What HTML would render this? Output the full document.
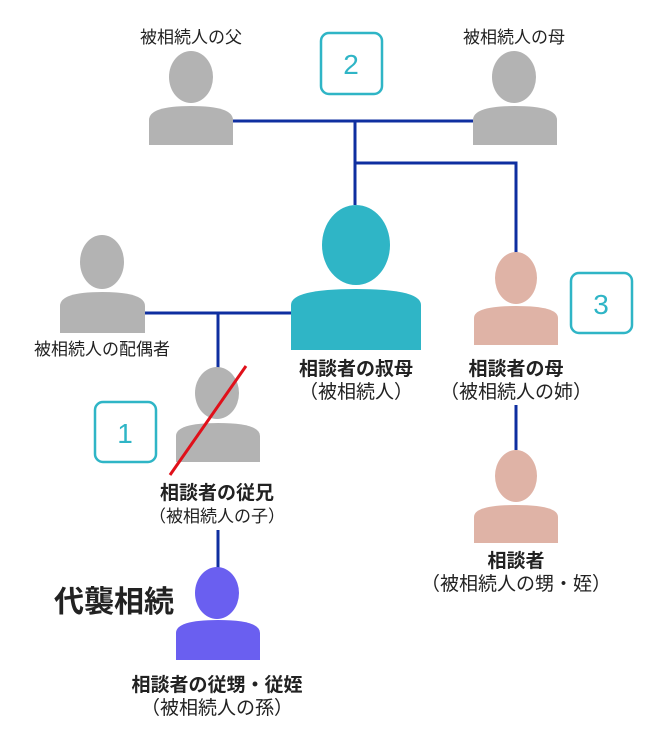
<!DOCTYPE html>
<html><head><meta charset="utf-8"><style>
html,body{margin:0;padding:0;background:#fff;width:661px;height:734px;overflow:hidden}
text{font-family:"Liberation Sans","Noto Sans CJK JP",sans-serif;fill:#222}
.b{font-weight:bold;font-size:19px}
.n{font-size:19px}
.s{font-size:17px}
</style></head><body>
<svg width="661" height="734" viewBox="0 0 661 734" xmlns="http://www.w3.org/2000/svg">
<g stroke="#0f2fa0" stroke-width="3" fill="none">
<path d="M233 121H473M355 121V205M355 163H516V253M145 313H291M218 313V370M218 530V568M516 405V450"/>
</g>
<g fill="#b3b3b3">
<ellipse cx="191" cy="77" rx="22" ry="26"/>
<path d="M149 145V120Q149 106 191 106Q233 106 233 120V145Z"/>
<ellipse cx="514" cy="77" rx="22" ry="26"/>
<path d="M473 145V120Q473 106 515 106Q557 106 557 120V145Z"/>
<ellipse cx="102" cy="262" rx="22" ry="27"/>
<path d="M60 333V306Q60 292 102 292Q145 292 145 306V333Z"/>
<ellipse cx="217" cy="393" rx="22" ry="26"/>
<path d="M176 462V436Q176 423 218 423Q260 423 260 436V462Z"/>
</g>
<g fill="#2fb5c6">
<ellipse cx="356" cy="245" rx="34" ry="40"/>
<path d="M291 350V305Q291 289 356 289Q421 289 421 305V350Z"/>
</g>
<g fill="#dfb3a6">
<ellipse cx="516" cy="278" rx="21" ry="26"/>
<path d="M474 345V318Q474 306 516 306Q558 306 558 318V345Z"/>
<ellipse cx="516" cy="476" rx="21" ry="26"/>
<path d="M474 543V517Q474 505 516 505Q558 505 558 517V543Z"/>
</g>
<g fill="#6a5ff0">
<ellipse cx="217" cy="593" rx="22" ry="26"/>
<path d="M176 660V633Q176 620 218 620Q260 620 260 633V660Z"/>
</g>
<line x1="246" y1="366" x2="170" y2="475" stroke="#e0101a" stroke-width="3"/>
<g fill="none" stroke="#2fb5c6" stroke-width="2.5">
<rect x="321" y="33" width="61" height="61" rx="8"/>
<rect x="571" y="273" width="61" height="60" rx="8"/>
<rect x="95" y="402" width="61" height="60" rx="8"/>
</g>
<g text-anchor="middle">
<text x="351" y="74" style="fill:#2fb5c6;font-size:28px">2</text>
<text x="601" y="314" style="fill:#2fb5c6;font-size:28px">3</text>
<text x="125" y="443" style="fill:#2fb5c6;font-size:28px">1</text>
</g>
<g text-anchor="middle">
<text class="s" x="191" y="43">被相続人の父</text>
<text class="s" x="514" y="43">被相続人の母</text>
<text class="s" x="102" y="355">被相続人の配偶者</text>
<text class="b" x="356" y="375">相談者の叔母</text>
<text class="n" x="356" y="398">（被相続人）</text>
<text class="b" x="516" y="375">相談者の母</text>
<text class="n" x="516" y="398">（被相続人の姉）</text>
<text class="b" x="217" y="499">相談者の従兄</text>
<text x="217" y="522" style="font-size:17px">（被相続人の子）</text>
<text class="b" x="516" y="567">相談者</text>
<text class="n" x="516" y="590">（被相続人の甥・姪）</text>
<text class="b" x="217" y="691">相談者の従甥・従姪</text>
<text class="n" x="217" y="714">（被相続人の孫）</text>
<text x="114" y="612" style="font-size:30px;font-weight:bold">代襲相続</text>
</g>
</svg>
</body></html>
